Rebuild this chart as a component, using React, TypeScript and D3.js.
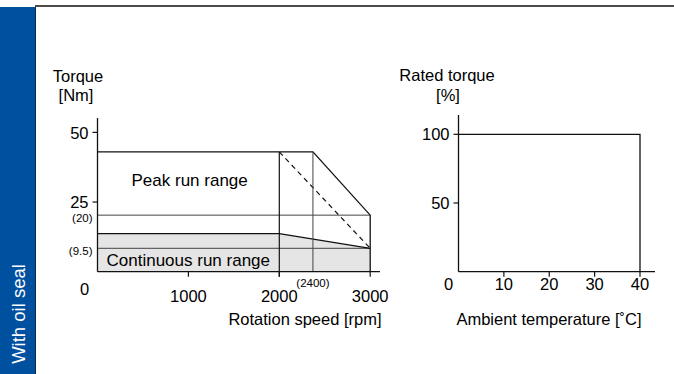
import React from "react";
import * as d3 from "d3";

// ---- Data ----
const speedTicks = [0, 1000, 2000, 3000];
const torqueTicks = [50, 25];
const peakTorque = 43;
const peakKneeSpeed = 2370;
const peakEndTorque = 20.3;
const contTorque = 13.7;
const contKneeSpeed = 2000;
const contEndTorque = 8.4;
const maxSpeed = 3000;
const refLines = [
  { label: "(20)", value: 20.3 },
  { label: "(9.5)", value: 8.4 },
];
const kneeLabel = "(2400)";

const tempTicks = [0, 10, 20, 30, 40];
const ratedTicks = [100, 50];
const ratedCurveTemp = [0, 40, 40];
const ratedCurveVal = [100, 100, 0];

const FONT = "'Liberation Sans', Arial, Helvetica, sans-serif";

export default function App() {
  const W = 674;
  const H = 374;

  // Left chart scales
  const x1 = d3.scaleLinear().domain([0, 3000]).range([97.5, 370.2]);
  const y1 = d3.scaleLinear().domain([0, 50]).range([271.7, 132.4]);
  const y1Top = 118;
  const x1End = 380;

  // Right chart scales
  const x2 = d3.scaleLinear().domain([0, 40]).range([458.5, 640]);
  const y2 = d3.scaleLinear().domain([0, 100]).range([271.7, 134.3]);
  const y2Top = 115;
  const x2End = 655;

  const line = d3.line<[number, number]>();

  const peakPath = line([
    [x1(0), y1(peakTorque)],
    [x1(peakKneeSpeed), y1(peakTorque)],
    [x1(maxSpeed), y1(peakEndTorque)],
    [x1(maxSpeed), y1(0)],
  ]);
  const contArea = line([
    [x1(0), y1(0)],
    [x1(0), y1(contTorque)],
    [x1(contKneeSpeed), y1(contTorque)],
    [x1(maxSpeed), y1(contEndTorque)],
    [x1(maxSpeed), y1(0)],
  ]) + "Z";
  const contLine = line([
    [x1(0), y1(contTorque)],
    [x1(contKneeSpeed), y1(contTorque)],
    [x1(maxSpeed), y1(contEndTorque)],
  ]);
  const dashPath = line([
    [x1(contKneeSpeed), y1(peakTorque)],
    [x1(maxSpeed), y1(contEndTorque)],
  ]);
  const ratedPath = line(
    ratedCurveTemp.map((t, i) => [x2(t), y2(ratedCurveVal[i])] as [number, number])
  );

  const axisStroke = "#111";
  const fs = 16.5;

  return (
    <svg
      width={W}
      height={H}
      style={{ position: "absolute", left: 0, top: 0, background: "#fff" }}
      fontFamily={FONT}
    >
      {/* side band */}
      <rect x={0} y={7} width={35} height={H - 7} fill="#0050a0" />
      <line x1={35.5} y1={7} x2={35.5} y2={H} stroke="#0d2850" strokeWidth={1} />
      <line x1={35} y1={6} x2={W} y2={6} stroke="#111" strokeWidth={1.6} />
      <text
        transform="translate(25,314) rotate(-90)"
        textAnchor="middle"
        fill="#fff"
        fontSize={18.5}
      >
        With oil seal
      </text>

      {/* ---- Left chart ---- */}
      <path d={contArea} fill="#e5e5e5" />
      {refLines.map((r) => (
        <line
          key={r.label}
          x1={x1(0)}
          x2={x1(maxSpeed)}
          y1={y1(r.value)}
          y2={y1(r.value)}
          stroke="#444"
          strokeWidth={1}
        />
      ))}
      <path d={contLine} fill="none" stroke={axisStroke} strokeWidth={1.3} />
      <path d={peakPath} fill="none" stroke={axisStroke} strokeWidth={1.3} />
      <path d={dashPath} fill="none" stroke={axisStroke} strokeWidth={1.2} strokeDasharray="5,4" />
      <line
        x1={x1(contKneeSpeed)}
        x2={x1(contKneeSpeed)}
        y1={y1(peakTorque)}
        y2={y1(0) + 5}
        stroke={axisStroke}
        strokeWidth={1.2}
      />
      <line
        x1={x1(peakKneeSpeed)}
        x2={x1(peakKneeSpeed)}
        y1={y1(peakTorque)}
        y2={y1(0)}
        stroke="#444"
        strokeWidth={1}
      />
      {/* axes */}
      <line x1={x1(0)} x2={x1(0)} y1={y1Top} y2={y1(0)} stroke={axisStroke} strokeWidth={1.3} />
      <line x1={x1(0)} x2={x1End} y1={y1(0)} y2={y1(0)} stroke={axisStroke} strokeWidth={1.3} />
      {torqueTicks.map((t) => (
        <g key={t}>
          <line x1={x1(0) - 5} x2={x1(0)} y1={y1(t)} y2={y1(t)} stroke={axisStroke} strokeWidth={1.2} />
          <text x={x1(0) - 9} y={y1(t) + 0.5} dy="0.36em" textAnchor="end" fontSize={fs}>
            {t}
          </text>
        </g>
      ))}
      {refLines.map((r) => (
        <text key={r.label} x={x1(0) - 5} y={y1(r.value) + 3} dy="0.36em" textAnchor="end" fontSize={11.5}>
          {r.label}
        </text>
      ))}
      {speedTicks.map((s) =>
        s === 0 ? (
          <text key={s} x={x1(0) - 13} y={294.5} textAnchor="middle" fontSize={fs}>
            0
          </text>
        ) : (
          <g key={s}>
            <line x1={x1(s)} x2={x1(s)} y1={y1(0)} y2={y1(0) + 5} stroke={axisStroke} strokeWidth={1.2} />
            <text x={x1(s)} y={301.5} textAnchor="middle" fontSize={fs}>
              {s}
            </text>
          </g>
        )
      )}
      <text x={x1(peakKneeSpeed)} y={286.5} textAnchor="middle" fontSize={11.5}>
        {kneeLabel}
      </text>
      <text x={x1(0) + 34} y={185.5} textAnchor="start" fontSize={17}>
        Peak run range
      </text>
      <text x={x1(0) + 9} y={265.5} textAnchor="start" fontSize={17}>
        Continuous run range
      </text>
      <text x={78} y={82} textAnchor="middle" fontSize={fs}>
        Torque
      </text>
      <text x={76} y={101} textAnchor="middle" fontSize={fs}>
        [Nm]
      </text>
      <text x={305} y={324.5} textAnchor="middle" fontSize={fs}>
        Rotation speed [rpm]
      </text>

      {/* ---- Right chart ---- */}
      <path d={ratedPath!} fill="none" stroke={axisStroke} strokeWidth={1.3} />
      <line x1={x2(0)} x2={x2(0)} y1={y2Top} y2={y2(0)} stroke={axisStroke} strokeWidth={1.3} />
      <line x1={x2(0)} x2={x2End} y1={y2(0)} y2={y2(0)} stroke={axisStroke} strokeWidth={1.3} />
      {ratedTicks.map((t) => (
        <g key={t}>
          <line x1={x2(0) - 5} x2={x2(0)} y1={y2(t)} y2={y2(t)} stroke={axisStroke} strokeWidth={1.2} />
          <text x={x2(0) - 9} y={y2(t)} dy="0.36em" textAnchor="end" fontSize={fs}>
            {t}
          </text>
        </g>
      ))}
      {tempTicks.map((t) =>
        t === 0 ? (
          <text key={t} x={x2(0) - 10} y={290} textAnchor="middle" fontSize={fs}>
            0
          </text>
        ) : (
          <g key={t}>
            <line x1={x2(t)} x2={x2(t)} y1={y2(0)} y2={y2(0) + 5} stroke={axisStroke} strokeWidth={1.2} />
            <text x={x2(t)} y={290} textAnchor="middle" fontSize={fs}>
              {t}
            </text>
          </g>
        )
      )}
      <text x={447} y={81} textAnchor="middle" fontSize={fs}>
        Rated torque
      </text>
      <text x={448} y={101} textAnchor="middle" fontSize={fs}>
        [%]
      </text>
      <text x={549} y={324.5} textAnchor="middle" fontSize={fs}>
        Ambient temperature [˚C]
      </text>
    </svg>
  );
}
